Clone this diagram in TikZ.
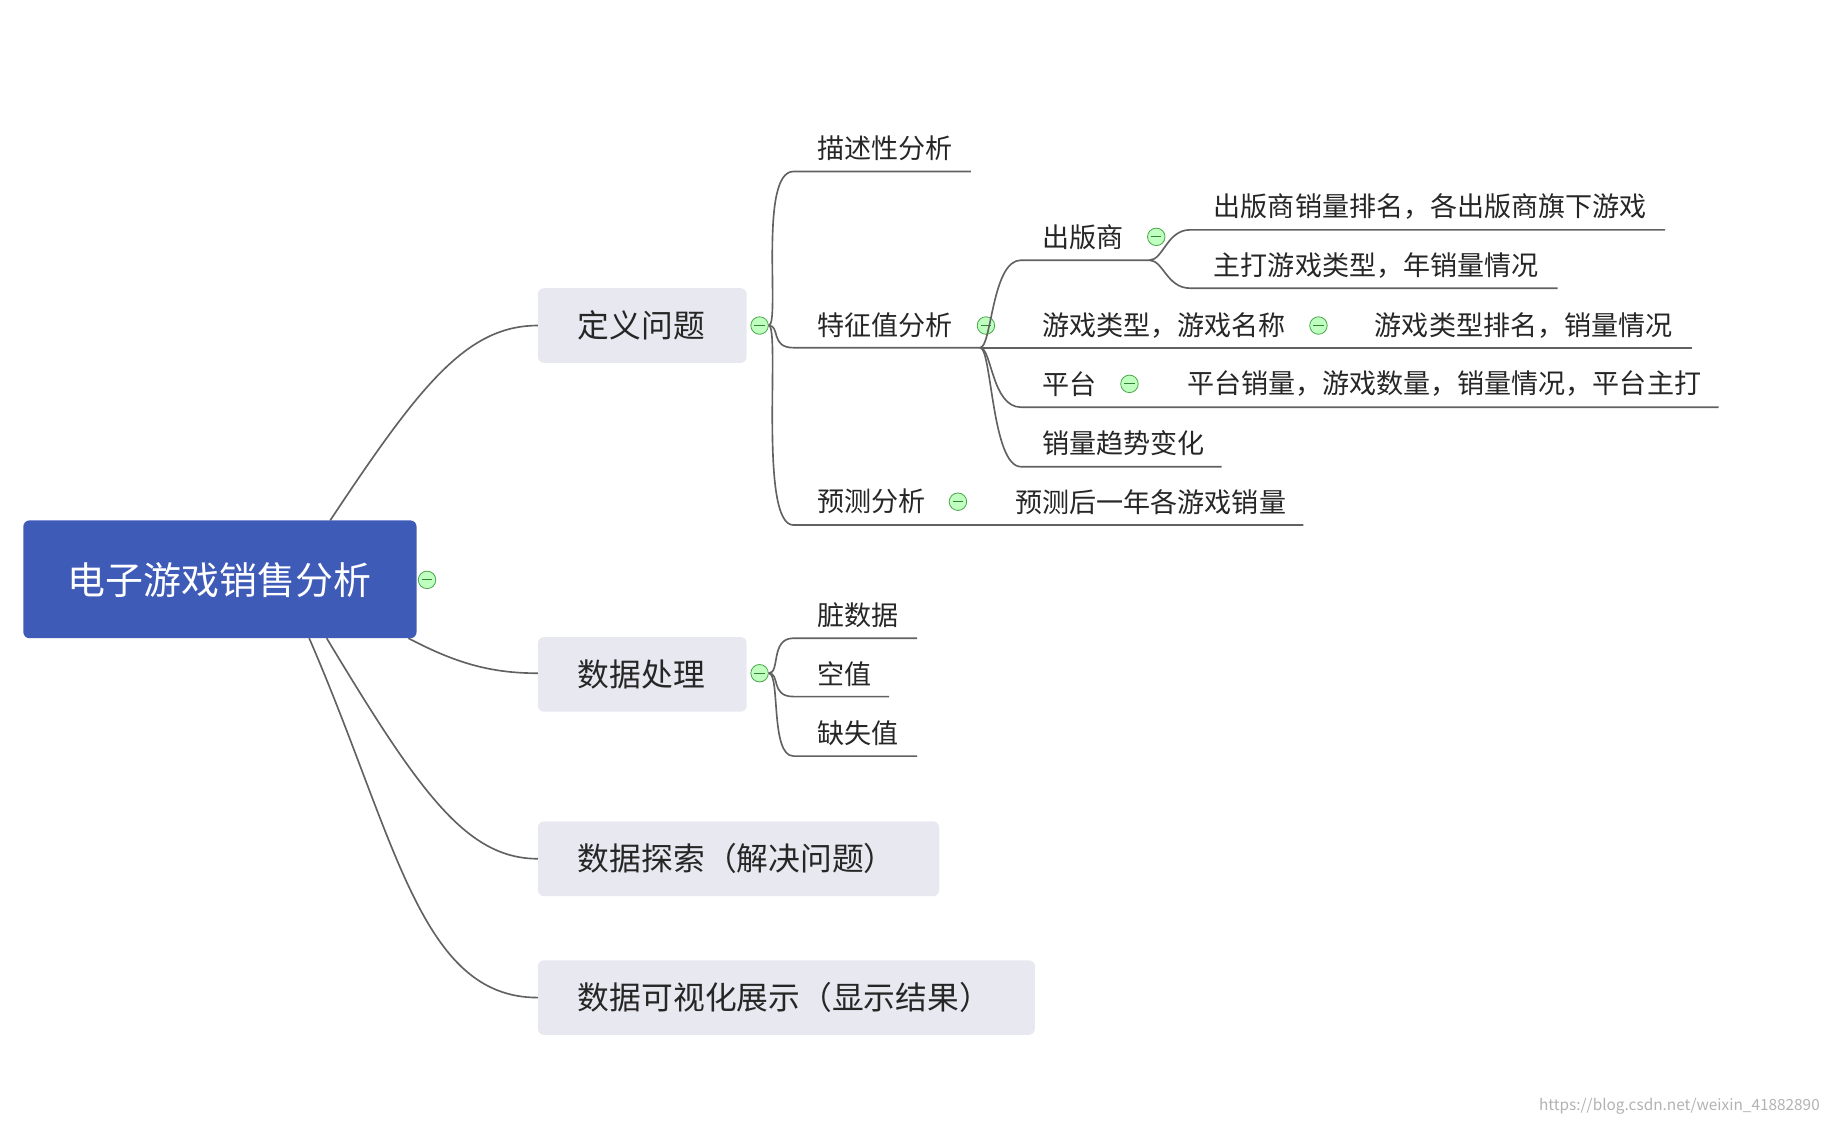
\documentclass[tikz,border=0pt]{standalone}
\usepackage{fontspec}
\setmainfont{Noto Sans CJK SC}
\begin{document}
\begin{tikzpicture}[x=0.02cm,y=-0.02cm,
 ln/.style={draw=black!62,line width=0.8pt},
 t2/.style={font=\fontsize{13.2}{16}\selectfont,text=black!85,anchor=west,inner sep=0},
 tog/.style={circle,draw=green!50!black!70,fill=green!25!white,minimum size=0.3cm,inner sep=0,path picture={\draw[green!40!black!80,line width=0.5pt] ([xshift=-2.5pt]path picture bounding box.center)--([xshift=2.5pt]path picture bounding box.center);}}]
\definecolor{l1fill}{HTML}{E8E8F0}
\definecolor{rootc}{HTML}{3F5BB8}
\useasboundingbox (0,0) rectangle (1565,963);
% root
\fill[rootc,rounded corners=3pt] (20,446) rectangle (357,547);
\node[text=white,font=\fontsize{18.5}{22}\selectfont] (root) at (188,497) {电子游戏销售分析};
\node[tog] (troot) at (366,497) {};
% level1 boxes
\fill[l1fill,rounded corners=3pt] (461,247) rectangle (640,311);
\fill[l1fill,rounded corners=3pt] (461,546) rectangle (640,610);
\fill[l1fill,rounded corners=3pt] (461,704) rectangle (805,768);
\fill[l1fill,rounded corners=3pt] (461,823) rectangle (887,887);
\tikzset{l1t/.style={font=\fontsize{15.5}{18}\selectfont,text=black!85,anchor=west,inner sep=0}}
\node[l1t] (dy) at (495,279) {定义问题};
\node[l1t] (cl) at (495,578) {数据处理};
\node[l1t] (ts) at (495,736) {数据探索（解决问题）};
\node[l1t] (ks) at (495,855) {数据可视化展示（显示结果）};
\coordinate (r1) at (283,446); \coordinate (r2) at (350,547);
\coordinate (r3) at (280,547); \coordinate (r4) at (265,547);
\coordinate (b1) at (461,279); \coordinate (b2) at (461,577);
\coordinate (b3) at (461,736); \coordinate (b4) at (461,855);
\draw[ln] (r1) .. controls (360,330) and (400,279) .. (b1);
\draw[ln] (r2) .. controls (390,568) and (420,577) .. (b2);
\draw[ln] (r3) .. controls (360,680) and (400,736) .. (b3);
\draw[ln] (r4) .. controls (340,720) and (360,855) .. (b4);
% 定义问题 children
\node[tog] (t1) at (651,279) {};
\coordinate (c1a) at (680,147); \coordinate (c1ae) at (832,147);
\coordinate (c1b) at (680,298); \coordinate (c1be) at (840,298);
\coordinate (c1c) at (680,450); \coordinate (c1ce) at (1117,450);
\draw[ln] (t1.east) .. controls +(10,0) and +(-30,0) .. (c1a) -- (c1ae);
\draw[ln] (t1.east) .. controls +(10,0) and +(-20,0) .. (c1b) -- (c1be);
\draw[ln] (t1.east) .. controls +(10,0) and +(-30,0) .. (c1c) -- (c1ce);
\node[t2] (ms) at (700,127) {描述性分析};
\node[t2] (tz) at (700,279) {特征值分析};
\node[t2] (yc) at (700,430) {预测分析};
\node[tog] (tyc) at (821,430) {};
\node[t2] (ycc) at (870,430) {预测后一年各游戏销量};
% 特征值分析 children
\node[tog] (ttz) at (845,279) {};
\coordinate (c2a) at (875,223); \coordinate (c2ae) at (985,223);
\coordinate (c2b) at (875,298); \coordinate (c2be) at (1450,298);
\coordinate (c2c) at (875,349); \coordinate (c2ce) at (1473,349);
\coordinate (c2d) at (875,400); \coordinate (c2de) at (1047,400);
\draw[ln] (c1be) .. controls +(10,0) and +(-25,0) .. (c2a) -- (c2ae);
\draw[ln] (c1be) -- (c2b) -- (c2be);
\draw[ln] (c1be) .. controls +(10,0) and +(-25,0) .. (c2c) -- (c2ce);
\draw[ln] (c1be) .. controls +(10,0) and +(-25,0) .. (c2d) -- (c2de);
\node[t2] (cbs) at (893,203) {出版商};
\node[tog] (tcbs) at (991,203) {};
\node[t2] (yxlx) at (893,279) {游戏类型，游戏名称};
\node[tog] (tyx) at (1130,279) {};
\node[t2] (yxlxc) at (1178,279) {游戏类型排名，销量情况};
\node[t2] (pt) at (893,329) {平台};
\node[tog] (tpt) at (968,329) {};
\node[t2] (ptc) at (1017,329) {平台销量，游戏数量，销量情况，平台主打};
\node[t2] (xl) at (893,380) {销量趋势变化};
% 出版商 children
\coordinate (c3a) at (1020,197); \coordinate (c3ae) at (1427,197);
\coordinate (c3b) at (1020,247); \coordinate (c3be) at (1335,247);
\draw[ln] (c2ae) .. controls +(12,0) and +(-20,0) .. (c3a) -- (c3ae);
\draw[ln] (c2ae) .. controls +(12,0) and +(-20,0) .. (c3b) -- (c3be);
\node[t2] (cb1) at (1040,177) {出版商销量排名，各出版商旗下游戏};
\node[t2] (cb2) at (1040,228) {主打游戏类型，年销量情况};
% 数据处理 children
\node[tog] (t2n) at (651,577) {};
\coordinate (d1) at (680,547); \coordinate (d1e) at (786,547);
\coordinate (d2) at (680,597); \coordinate (d2e) at (762,597);
\coordinate (d3) at (680,648); \coordinate (d3e) at (786,648);
\draw[ln] (t2n.east) .. controls +(10,0) and +(-20,0) .. (d1) -- (d1e);
\draw[ln] (t2n.east) .. controls +(10,0) and +(-20,0) .. (d2) -- (d2e);
\draw[ln] (t2n.east) .. controls +(10,0) and +(-20,0) .. (d3) -- (d3e);
\node[t2] (zs) at (700,527) {脏数据};
\node[t2] (kz) at (700,578) {空值};
\node[t2] (qs) at (700,628) {缺失值};
\node[anchor=east,text=black!30,font=\fontsize{7.5}{9}\selectfont,inner sep=0] (wm) at (1560,948) {https://blog.csdn.net/weixin\_41882890};
\end{tikzpicture}
\end{document}
